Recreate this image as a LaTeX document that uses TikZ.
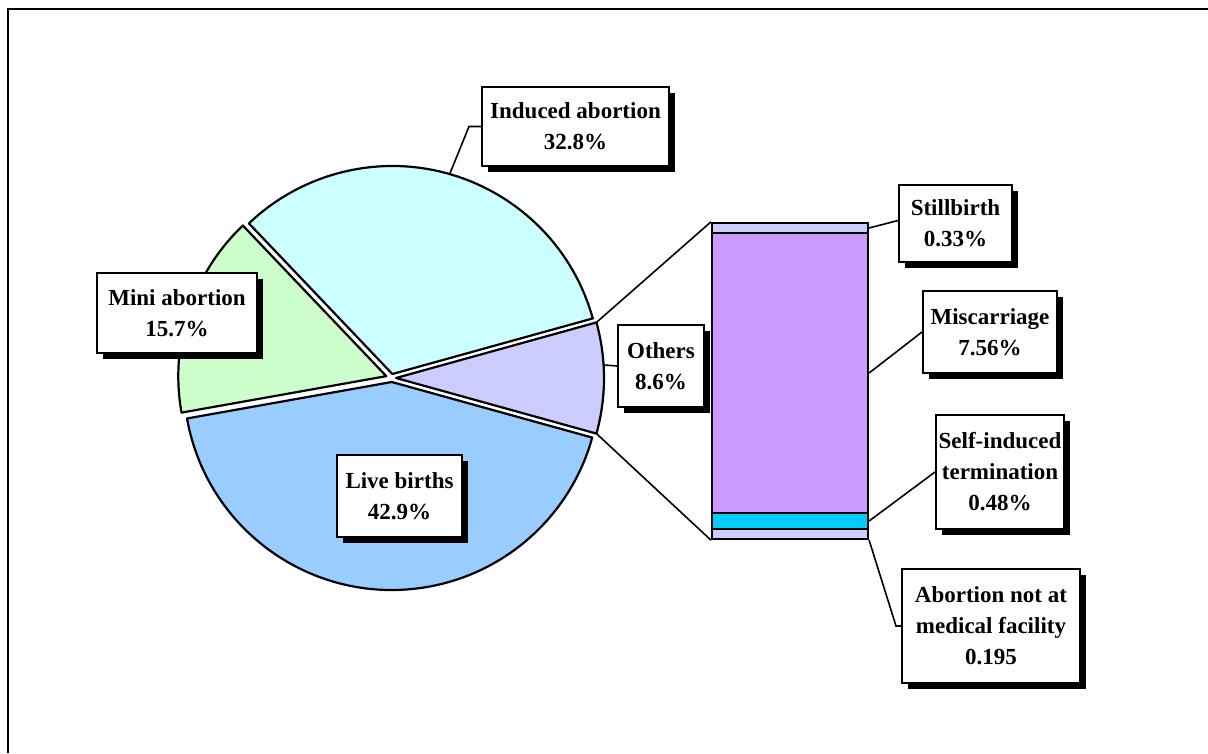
\documentclass[tikz,border=0pt]{standalone}
\usepackage{fontspec}
\setmainfont{Liberation Serif}
\usetikzlibrary{positioning, shadows}

\definecolor{livecol}{HTML}{99CCFF}
\definecolor{inducedcol}{HTML}{CCFFFF}
\definecolor{minicol}{HTML}{CCFFCC}
\definecolor{otherscol}{HTML}{CCCCFF}
\definecolor{misccol}{HTML}{CC99FF}
\definecolor{selfcol}{HTML}{00CCFF}

\begin{document}
\begin{tikzpicture}[x=1pt, y=-1pt, line width=2pt, every node/.style={align=center},
    lbl/.style={draw, fill=white, inner sep=0pt, font=\fontsize{23}{31}\selectfont\bfseries,
        drop shadow={shadow xshift=6pt, shadow yshift=-6pt, fill=black, opacity=1}},
    slice/.style={draw, line width=2.2pt, line join=round},
    barseg/.style={draw, line width=2.2pt, inner sep=0pt, minimum width=156pt},
    leader/.style={line width=1.6pt}]

    \useasboundingbox (0,0) rectangle (1208,753);
    % frame
    \draw[line width=2.8pt] (8,753) -- (8,9) -- (1208,9);

    % pie
    \begin{scope}[shift={(392,378)}, yscale=-1]
        \filldraw[slice, fill=otherscol, shift={(0:4)}] (0,0) -- (-15.5:208) arc[start angle=-15.5, end angle=15.5, radius=208] -- cycle;
        \filldraw[slice, fill=inducedcol, shift={(85:4)}] (0,0) -- (15.5:208) arc[start angle=15.5, end angle=133.6, radius=208] -- cycle;
        \filldraw[slice, fill=minicol, shift={(162:6)}] (0,0) -- (133.6:208) arc[start angle=133.6, end angle=190.1, radius=208] -- cycle;
        \filldraw[slice, fill=livecol, shift={(267:4)}] (0,0) -- (190.1:208) arc[start angle=190.1, end angle=344.5, radius=208] -- cycle;
        \path[shift={(0:4)}] (15.5:208) coordinate (othtop) (-15.5:208) coordinate (othbot) (3.6:208) coordinate (othedge);
        \path[shift={(85:4)}] (74:208) coordinate (indedge);
    \end{scope}

    % bar of the others
    \node (stillseg) [barseg, fill=otherscol, minimum height=10pt] at (790,228) {};
    \node (miscseg) [barseg, fill=misccol, minimum height=280pt] at (790,373) {};
    \node (selfseg) [barseg, fill=selfcol, minimum height=16pt] at (790,521) {};
    \node (nofacseg) [barseg, fill=otherscol, minimum height=10pt] at (790,534) {};

    \draw[leader] (othtop) -- (stillseg.north west);
    \draw[leader] (othbot) -- (nofacseg.south west);

    % labels
    \node (indbox) [lbl, minimum width=187pt, minimum height=79pt] at (575.5,126.5) {Induced abortion\\32.8\%};
    \node (minibox) [lbl, minimum width=160pt, minimum height=80pt] at (177,313) {Mini abortion\\15.7\%};
    \node (livebox) [lbl, minimum width=125pt, minimum height=82pt] at (399.5,496) {Live births\\42.9\%};
    \node (othbox) [lbl, minimum width=86pt, minimum height=82pt] at (661,366) {Others\\8.6\%};
    \node (stillbox) [lbl, minimum width=113pt, minimum height=77pt] at (955.5,223.5) {Stillbirth\\0.33\%};
    \node (miscbox) [lbl, minimum width=134pt, minimum height=82pt] at (990,332) {Miscarriage\\7.56\%};
    \node (selfbox) [lbl, minimum width=128pt, minimum height=114pt] at (1000,472) {Self-induced\\termination\\0.48\%};
    \node (nofacbox) [lbl, minimum width=178pt, minimum height=114pt] at (991,626) {Abortion not at\\medical facility\\0.195};

    % leader lines
    \draw[leader] (indedge) -- ([xshift=-12pt]indbox.west) -- (indbox.west);
    \draw[leader] (othedge) -- (othbox.west);
    \draw[leader] (stillseg.east) -- ([yshift=3pt]stillbox.west);
    \draw[leader] (miscseg.east) -- (miscbox.west);
    \draw[leader] (selfseg.east) -- (selfbox.west);
    \draw[leader] (nofacseg.south east) -- ([xshift=-5pt]nofacbox.west) -- (nofacbox.west);
\end{tikzpicture}
\end{document}
